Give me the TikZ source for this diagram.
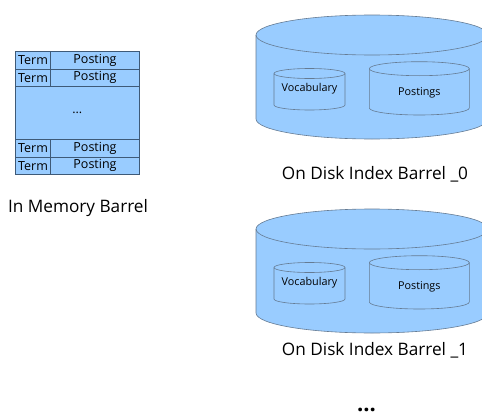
\documentclass[tikz,border=0pt]{standalone}
\usepackage{fontspec}
\setmainfont{Open Sans}
\definecolor{fillblue}{HTML}{99CCFF}
\definecolor{edge}{HTML}{3E5A78}
\begin{document}
\begin{tikzpicture}[x=1pt,y=-1pt,
  cell/.style={draw=edge,fill=fillblue,line width=0.6pt,minimum height=17.6pt,inner sep=0pt,font=\fontsize{12.5}{14}\selectfont},
  cyl/.style={draw=edge!80,fill=fillblue,line width=0.6pt},
  lbl/.style={font=\fontsize{17.2}{19}\selectfont,inner sep=0pt},
  small/.style={font=\fontsize{10.8}{12}\selectfont,inner sep=0pt}]
\useasboundingbox (0,0) rectangle (482,415);
\clip (0,0) rectangle (482,415);
% table
\node[cell,minimum width=35.3pt] (t1) at (33,60) {Term};
\node[cell,minimum width=88.6pt] (p1) at (95,60) {Posting};
\node[cell,minimum width=35.3pt] (t2) at (33,77.6) {Term};
\node[cell,minimum width=88.6pt] (p2) at (95,77.6) {Posting};
\node[cell,minimum width=123.9pt,minimum height=52.7pt] (dots) at (77.3,112.8) {...};
\node[cell,minimum width=35.3pt] (t3) at (33,148) {Term};
\node[cell,minimum width=88.6pt] (p3) at (95,148) {Posting};
\node[cell,minimum width=35.3pt] (t4) at (33,165.6) {Term};
\node[cell,minimum width=88.6pt] (p4) at (95,165.6) {Posting};
\node[lbl] (mem) at (78,208) {In Memory Barrel};
% cylinders
\foreach \n/\yo in {0/0,1/194}{
  \begin{scope}[yshift=-\yo]
  \path[cyl] (256,35) -- (256,119) arc[start angle=180,end angle=0,x radius=116,y radius=20] -- (488,35) arc[start angle=0,end angle=-180,x radius=116,y radius=20] -- cycle;
  \draw[edge!80,line width=0.6pt] (256,35) arc[start angle=180,end angle=0,x radius=116,y radius=20];
  % vocabulary
  \path[cyl] (274,73.5) -- (274,105) arc[start angle=180,end angle=0,x radius=35.5,y radius=5] -- (345,73.5) arc[start angle=0,end angle=-180,x radius=35.5,y radius=5] -- cycle;
  \draw[edge!80,line width=0.6pt] (274,73.5) arc[start angle=180,end angle=0,x radius=35.5,y radius=5];
  \node[small] (voc\n) at (309.5,89) {Vocabulary};
  % postings
  \path[cyl] (369.3,68.7) -- (369.3,108) arc[start angle=180,end angle=0,x radius=50,y radius=7] -- (469.3,68.7) arc[start angle=0,end angle=-180,x radius=50,y radius=7] -- cycle;
  \draw[edge!80,line width=0.6pt] (369.3,68.7) arc[start angle=180,end angle=0,x radius=50,y radius=7];
  \node[small] (post\n) at (419.3,92.5) {Postings};
  \end{scope}
}
\node[lbl] (d0) at (375,174) {On Disk Index Barrel \_0};
\node[lbl] (d1) at (375,350) {On Disk Index Barrel \_1};
\node[font=\fontsize{22}{24}\selectfont\bfseries,inner sep=0pt,anchor=base] (more) at (366.5,411.5) {...};
\end{tikzpicture}
\end{document}
